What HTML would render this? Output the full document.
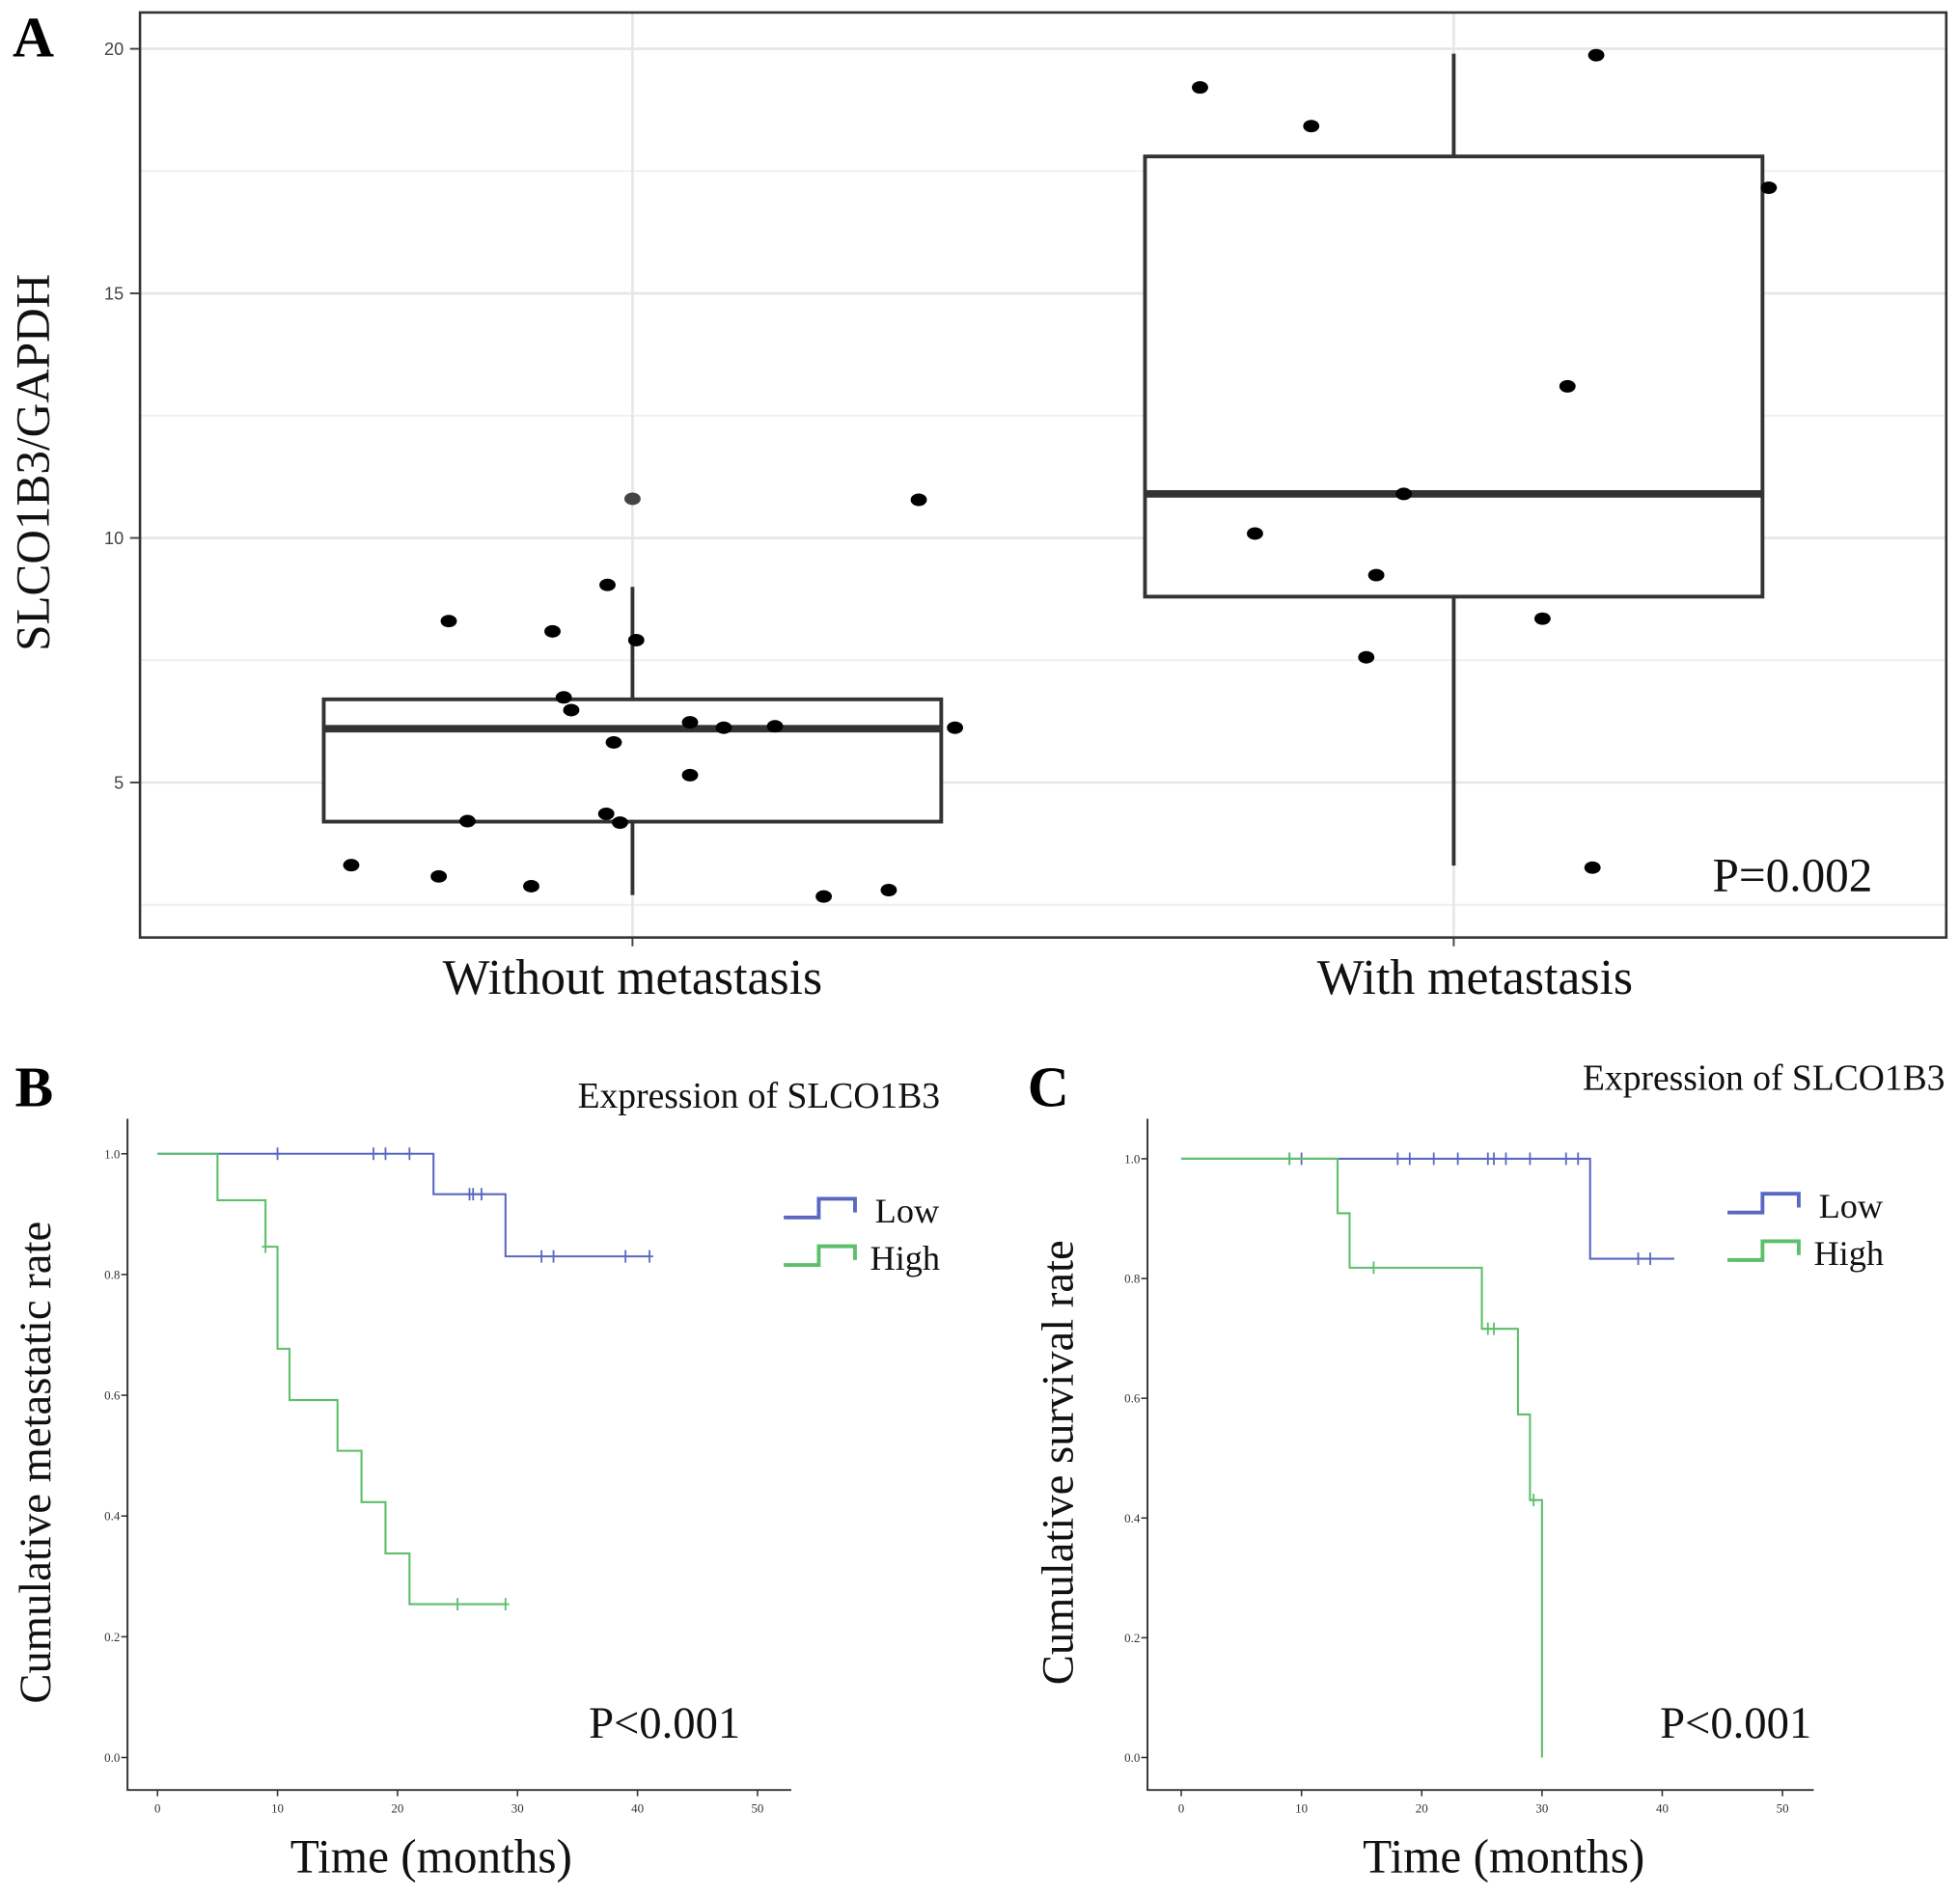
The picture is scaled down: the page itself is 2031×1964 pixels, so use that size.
<!DOCTYPE html>
<html><head><meta charset="utf-8">
<style>
html,body{margin:0;padding:0;background:#fff;}
svg{display:block;}
text{font-family:"Liberation Serif",serif;}
</style></head>
<body>
<svg id="fig" xmlns="http://www.w3.org/2000/svg" width="2031" height="1964" viewBox="0 0 1568 1516" preserveAspectRatio="none">
<rect x="0" y="0" width="1568" height="1516" fill="#fff"/>
<g id="pa"></g>
<g id="pb"></g>
<g id="pc"></g>
</svg>
<script>
// ---- Panel A data ----
const catsA = ["Without metastasis","With metastasis"];
const yTicksA = [5,10,15,20];
const yMinorA = [2.5,7.5,12.5,17.5];
const boxQ1 = [4.2, 8.8];
const boxMed = [6.1, 10.9];
const boxQ3 = [6.7, 17.8];
const whiskLo = [2.7, 3.3];
const whiskHi = [9.0, 19.9];
const ptsWithoutVals = [10.8,10.78,9.04,8.3,8.09,7.91,6.74,6.48,6.23,6.12,6.15,6.12,5.82,5.15,4.21,4.36,4.18,3.31,3.08,2.88,2.67,2.8];
const ptsWithoutJit = [0,229,-20,-147,-64,3,-55,-49,46,73,114,258,-15,46,-132,-21,-10,-225,-155,-81,153,205];
const ptsWithVals = [19.21,19.87,18.42,17.16,13.1,10.9,10.09,9.24,7.56,8.35,3.26];
const ptsWithJit = [-203,114,-114,252,91,-40,-159,-62,-70,71,111];
const pA = "P=0.002";

// ---- Panel B data ----
const xTicksKM = [0,10,20,30,40,50];
const yTicksKM = [0.0,0.2,0.4,0.6,0.8,1.0];
const bLowT = [0,23,29,41];
const bLowS = [1.0,0.933,0.83,0.83];
const bLowCens = [10,18,19,21,26,26.3,27,32,33,39,41];
const bHighT = [0,5,9,10,11,15,17,19,21,29];
const bHighS = [1.0,0.923,0.846,0.677,0.592,0.508,0.423,0.338,0.254,0.254];
const bHighCens = [9,25,29];

// ---- Panel C data ----
const cLowT = [0,34,41];
const cLowS = [1.0,0.833,0.833];
const cLowCens = [9,10,18,19,21,23,25.5,26,27,29,32,33,38,39];
const cHighT = [0,13,14,25,28,29,30,30];
const cHighS = [1.0,0.909,0.818,0.716,0.573,0.43,0.0,0.0];
const cHighCens = [9,16,25.5,26,29.3];

const NS="http://www.w3.org/2000/svg";
function mk(parent,tag,attrs,txt){const e=document.createElementNS(NS,tag);for(const k in attrs)e.setAttribute(k,attrs[k]);if(txt!==undefined)e.textContent=txt;parent.appendChild(e);return e;}

// ===== Panel A =====
(function(){
const g=document.getElementById('pa');
const L=112,R=1557,T=10,B=750;
const yA=v=>626-(v-5)*39.13;
const xA=i=>[506,1163][i];
yMinorA.forEach(v=>{const e=mk(g,'line',{x1:L,x2:R,y1:yA(v),y2:yA(v),stroke:'#efefef','stroke-width':1.5});

});
yTicksA.forEach(v=>{const e=mk(g,'line',{x1:L,x2:R,y1:yA(v),y2:yA(v),stroke:'#e6e6e6','stroke-width':2});


const t=mk(g,'text',{x:99,y:yA(v)+5,'text-anchor':'end','font-size':14,fill:'#444',style:'font-family:"Liberation Sans",sans-serif'},String(v));


const tk=mk(g,'line',{x1:104,x2:L,y1:yA(v),y2:yA(v),stroke:'#444','stroke-width':1.5});

});
catsA.forEach((c,i)=>{const e=mk(g,'line',{x1:xA(i),x2:xA(i),y1:T,y2:B,stroke:'#e6e6e6','stroke-width':2});


const tk=mk(g,'line',{x1:xA(i),x2:xA(i),y1:B,y2:B+7,stroke:'#444','stroke-width':1.5});


const t=mk(g,'text',{x:xA(i)+(i?17:0),y:795,'text-anchor':'middle','font-size':40,fill:'#111'},c);

});
const fr=mk(g,'rect',{x:L,y:T,width:R-L,height:B-T,fill:'none',stroke:'#333','stroke-width':2});


const hw=247;
catsA.forEach((c,i)=>{
const w=mk(g,'line',{x1:xA(i),x2:xA(i),y1:yA(whiskLo[i]),y2:yA(whiskHi[i]),stroke:'#333','stroke-width':3});


const b=mk(g,'rect',{x:xA(i)-hw,y:yA(boxQ3[i]),width:2*hw,height:yA(boxQ1[i])-yA(boxQ3[i]),fill:'#fff',stroke:'#333','stroke-width':3});


const m=mk(g,'line',{x1:xA(i)-hw,x2:xA(i)+hw,y1:yA(boxMed[i]),y2:yA(boxMed[i]),stroke:'#333','stroke-width':6});

});
function pts(vals,jit,i){vals.forEach((v,k)=>{const p=mk(g,'ellipse',{cx:xA(i)+jit[k],cy:yA(v),rx:6.5,ry:5,fill:(i===0&&k===0)?'#444':'#000'});

});}
pts(ptsWithoutVals,ptsWithoutJit,0);pts(ptsWithVals,ptsWithJit,1);
const yt=mk(g,'text',{x:0,y:0,transform:'translate(39,370) rotate(-90)','text-anchor':'middle','font-size':38,fill:'#111'},'SLCO1B3/GAPDH');


const pv=mk(g,'text',{x:1370,y:713,'font-size':38,fill:'#111'},pA);


const lb=mk(g,'text',{x:10,y:45,'font-size':46,'font-weight':'bold',fill:'#000'},'A');


})();

// ===== KM panels =====
function km(gid,o){
const g=document.getElementById(gid);
const x=t=>o.x0+t*o.kx, y=s=>o.y0-s*o.ky;
const ax=mk(g,'path',{d:`M${o.L} ${o.T}V${o.B}H${o.R}`,fill:'none',stroke:'#333','stroke-width':1.5});


xTicksKM.forEach(v=>{const tk=mk(g,'line',{x1:x(v),x2:x(v),y1:o.B,y2:o.B+5,stroke:'#333','stroke-width':1.2});


const t=mk(g,'text',{x:x(v),y:o.B+18,'text-anchor':'middle','font-size':10,fill:'#333'},String(v));

});
yTicksKM.forEach(v=>{const tk=mk(g,'line',{x1:o.L-5,x2:o.L,y1:y(v),y2:y(v),stroke:'#333','stroke-width':1.2});


const t=mk(g,'text',{x:o.L-6,y:y(v)+3.5,'text-anchor':'end','font-size':10,fill:'#333'},v.toFixed(1));

});
function curve(T,S,C,col,name){
let d=`M${x(T[0])} ${y(S[0])}`;
for(let i=1;i<T.length;i++){d+=`H${x(T[i])}V${y(S[i])}`;}
const p=mk(g,'path',{d:d,fill:'none',stroke:col,'stroke-width':1.6});


C.forEach(c=>{let s=S[0];for(let i=0;i<T.length;i++){if(T[i]<=c)s=S[i];}
const m=mk(g,'path',{d:`M${x(c)} ${y(s)-5}V${y(s)+5}M${x(c)-3} ${y(s)}H${x(c)+3}`,stroke:col,'stroke-width':1.4});

});}
curve(o.lowT,o.lowS,o.lowC,'#5a68c0','low');
curve(o.highT,o.highS,o.highC,'#5cbf6a','high');
[['Low','#5a68c0',o.lgY],['High','#5cbf6a',o.lgY+38]].forEach(([n,c,ly])=>{
const ic=mk(g,'path',{d:`M${o.lgX} ${ly-4}H${o.lgX+28}V${ly-19}H${o.lgX+57}V${ly-8}`,fill:'none',stroke:c,'stroke-width':3});


const t=mk(g,'text',{x:o.lgX+(n==='Low'?73:69),y:ly,'font-size':28,fill:'#111'},n);

});
const et=mk(g,'text',{x:o.expX,y:o.expY,'text-anchor':'end','font-size':29,fill:'#111'},'Expression of SLCO1B3');


const pv=mk(g,'text',{x:o.pX,y:1390,'font-size':36,fill:'#111'},'P<0.001');


const xt=mk(g,'text',{x:o.xtX,y:1498,'text-anchor':'middle','font-size':38,fill:'#111'},'Time (months)');


const yt=mk(g,'text',{x:0,y:0,transform:`translate(${o.ytX},1170) rotate(-90)`,'text-anchor':'middle','font-size':36,fill:'#111'},o.ytitle);


const lb=mk(g,'text',{x:o.lbX,y:885,'font-size':46,'font-weight':'bold',fill:'#000'},o.label);


}
km('pb',{L:102,R:633,T:895,B:1432,x0:126,kx:9.6,y0:1406,ky:483,lowT:bLowT,lowS:bLowS,lowC:bLowCens,highT:bHighT,highS:bHighS,highC:bHighCens,lgX:627,lgY:978,expX:752,expY:886,pX:471,xtX:345,ytX:40,ytitle:'Cumulative metastatic rate',lbX:12,label:'B'});
km('pc',{L:918,R:1451,T:895,B:1432,x0:945,kx:9.62,y0:1406,ky:479,lowT:cLowT,lowS:cLowS,lowC:cLowCens,highT:cHighT,highS:cHighS,highC:cHighCens,lgX:1382,lgY:974,expX:1556,expY:872,pX:1328,xtX:1203,ytX:858,ytitle:'Cumulative survival rate',lbX:822,label:'C'});
</script>
</body></html>
